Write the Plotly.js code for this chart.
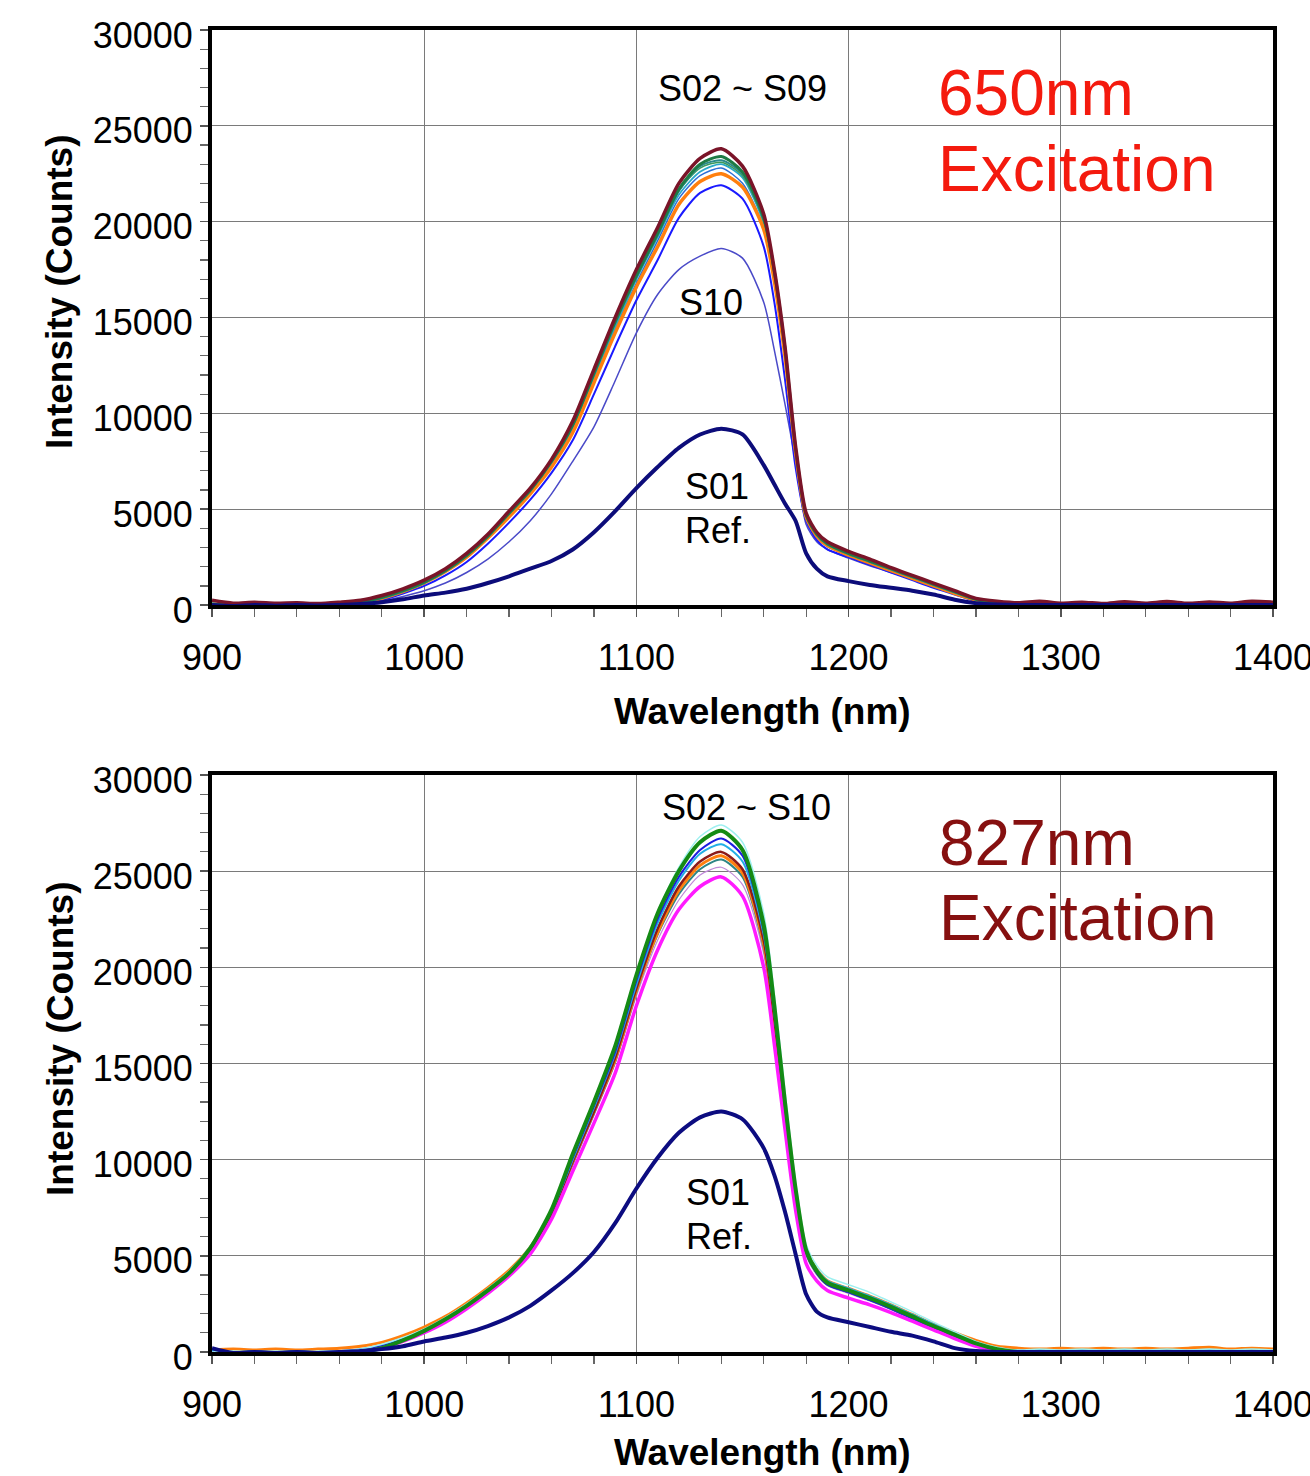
<!DOCTYPE html>
<html>
<head>
<meta charset="utf-8">
<script src="https://cdn.plot.ly/plotly-3.0.1.min.js"></script>
<style>html,body{margin:0;padding:0;background:#fff;}#chart{width:1310px;height:1476px;}</style>
</head>
<body>
<div id="chart"></div>
<script>
// Wavelength grid (nm)
const wavelength = [900,910,920,930,940,950,960,970,980,990,
  1000,1010,1020,1030,1040,1050,1060,1070,1080,1090,
  1100,1110,1120,1130,1140,1150,1160,
  1165,1170,1175,1180,1185,1190,
  1200,1210,1220,1230,1240,1250,1260,1270,1280,1290,
  1300,1310,1320,1330,1340,1350,1360,1370,1380,1390,1400];

// ---- 650 nm excitation ----
const top_S09 = [250,100,150,100,120,80,150,250,500,850,
  1300,1900,2700,3700,4900,6100,7600,9600,12300,15000,
  17500,19700,22000,23300,23800,22900,20400,
  17500,13500,8300,4800,3800,3300,
  2800,2400,1950,1550,1150,750,350,200,120,200,
  100,150,80,170,100,180,90,160,100,200,150];
const top_S02 = [50,0,50,0,30,0,50,150,400,750,
  1200,1800,2600,3600,4800,6000,7500,9400,12100,14800,
  17200,19400,21700,23000,23400,22600,20200,
  17400,13400,8200,4700,3700,3200,
  2700,2300,1900,1500,1100,700,300,120,50,80,
  30,60,0,50,20,40,-20,30,0,50,20];
const top_S03 = [0,-80,0,-50,0,-60,0,100,350,700,
  1150,1750,2550,3550,4750,5950,7450,9350,12000,14700,
  17100,19300,21600,22900,23200,22500,20100,
  17300,13300,8100,4650,3650,3150,
  2650,2250,1850,1450,1050,650,280,100,0,50,
  -50,20,-80,30,-50,0,-80,20,-60,0,-50];
const top_S04 = [0,-50,50,0,0,-50,50,100,350,700,
  1150,1750,2500,3500,4600,5800,7200,9000,11600,14200,
  16600,18700,20900,22100,22500,21800,19600,
  16900,13000,8000,4600,3600,3100,
  2600,2200,1800,1400,1000,600,250,100,0,50,
  0,50,-30,20,0,40,-20,30,0,20,0];
const top_S05 = [-100,-50,-80,-50,-60,-50,0,50,250,600,
  1000,1550,2250,3200,4300,5500,6900,8600,11000,13500,
  15900,18000,20200,21500,21900,21200,18700,
  15800,11800,7200,4400,3400,2900,
  2500,2100,1700,1300,900,550,200,50,-30,0,
  -50,0,-40,0,-50,0,-30,0,-50,0,-30];
const top_S06 = [-50,0,-50,0,-30,0,30,120,380,720,
  1180,1780,2580,3580,4720,5900,7350,9200,11800,14400,
  16800,19000,21200,22400,22800,22000,19700,
  16900,12900,7900,4550,3550,3050,
  2600,2200,1800,1400,1000,620,250,80,0,30,
  -20,30,0,20,-30,10,0,30,-20,0,20];
const top_S07 = [-200,-100,-150,-80,-120,-60,0,100,360,720,
  1170,1770,2570,3570,4750,5950,7400,9300,11900,14500,
  17000,19200,21400,22600,23000,22300,19900,
  17100,13100,8000,4600,3600,3100,
  2600,2200,1800,1400,1000,620,250,50,-100,-50,
  -150,-80,-150,-60,-150,-100,-150,-80,-180,-100,-150];
const top_S08 = [100,0,80,0,50,0,80,150,420,780,
  1220,1820,2620,3620,4800,6000,7500,9400,12050,14700,
  17100,19300,21600,22800,23100,22400,20000,
  17200,13200,8100,4650,3650,3150,
  2650,2250,1850,1450,1050,680,300,120,50,100,
  20,80,0,60,20,70,0,50,20,80,40];
const top_S10 = [-50,0,-30,0,-20,0,0,50,200,450,
  750,1150,1700,2400,3300,4400,5800,7500,9300,11700,
  14200,16200,17500,18200,18600,18100,15800,
  13300,10500,7500,4200,3300,2900,
  2450,2050,1700,1350,1000,600,250,100,0,50,
  0,30,-20,20,0,30,-10,20,0,20,0];
const top_S01 = [0,-50,0,-30,0,-20,0,50,150,300,
  500,650,850,1150,1500,1900,2300,2900,3800,4900,
  6100,7200,8200,8900,9200,8900,7300,
  6300,5300,4400,2700,1900,1500,
  1250,1050,900,750,550,280,100,30,0,0,
  0,0,0,0,0,0,0,0,0,0,0];

// ---- 827 nm excitation ----
const bot_S02 = [-100,-150,-100,-150,-100,-100,-50,0,200,600,
  1100,1700,2400,3200,4100,5400,7400,10300,13000,15900,
  19600,22800,25000,26500,27100,26100,22200,
  18000,13000,8500,5300,4200,3600,
  3200,2800,2350,1850,1350,900,450,150,0,-100,
  -50,-150,-100,-50,-150,-100,-150,-100,-50,-100,-150];
const bot_S03 = [0,50,0,50,0,50,50,150,400,750,
  1200,1800,2500,3300,4200,5500,7400,10200,12900,15800,
  19500,22900,25200,26800,27400,26500,22800,
  18600,13600,8900,5600,4500,3900,
  3500,3100,2600,2100,1550,1050,550,250,100,150,
  100,150,100,150,100,150,100,150,100,150,100];
const bot_S04 = [0,-50,0,-50,0,-50,0,100,300,650,
  1100,1700,2400,3200,4100,5400,7300,10100,12800,15600,
  19300,22500,24700,26100,26700,25800,21900,
  17700,12800,8300,5200,4100,3500,
  3100,2700,2250,1750,1250,800,350,100,0,-30,
  0,-50,0,-30,0,-50,0,-30,0,-50,0];
const bot_S05 = [100,0,50,0,50,0,50,150,350,700,
  1150,1750,2450,3250,4150,5450,7300,10000,12700,15500,
  19100,22300,24500,25900,26400,25500,21700,
  17600,12800,8400,5300,4300,3700,
  3300,2900,2450,1950,1450,950,500,200,80,100,
  50,100,50,100,50,80,50,100,50,80,50];
const bot_S06 = [0,-50,0,-50,0,-50,0,100,300,650,
  1100,1700,2400,3200,4100,5350,7200,9900,12500,15300,
  18900,22000,24200,25500,26000,25100,21400,
  17300,12600,8200,5200,4150,3550,
  3150,2750,2300,1800,1300,850,400,150,50,50,
  0,50,0,30,0,50,0,30,0,50,0];
const bot_S07 = [100,150,100,150,100,150,200,300,500,850,
  1300,1850,2550,3350,4250,5450,7250,9900,12500,15200,
  18800,21800,24000,25300,25800,24900,21200,
  17200,12500,8200,5300,4300,3700,
  3300,2900,2450,1950,1450,1000,600,300,200,150,
  200,150,200,150,200,150,200,250,150,200,150];
const bot_S08 = [-50,-100,-50,-100,-50,-100,-50,50,250,600,
  1050,1650,2350,3150,4050,5300,7150,9800,12400,15100,
  18700,21700,23800,25100,25600,24700,21000,
  17000,12400,8100,5100,4100,3500,
  3100,2700,2250,1750,1250,800,350,100,0,-50,
  -30,-80,-30,-80,-30,-80,-30,-80,-30,-80,-30];
const bot_S09 = [-300,-250,-300,-200,-250,-200,-100,0,200,550,
  1000,1550,2250,3050,3950,5100,6900,9400,11900,14500,
  18000,20900,23000,24200,24700,23700,20000,
  16000,11600,7400,4600,3700,3200,
  2800,2450,2050,1600,1150,700,300,50,-100,-200,
  -150,-250,-200,-150,-250,-200,-150,-250,-200,-150,-200];
const bot_S10 = [-200,-100,-150,-100,-100,-50,0,100,300,650,
  1100,1650,2350,3150,4050,5300,7100,9700,12300,15000,
  18500,21400,23500,24800,25200,24300,20700,
  16700,12200,8000,5000,4000,3450,
  3050,2650,2200,1700,1200,750,350,100,0,0,
  -50,0,-50,0,-50,0,-50,0,-50,0,-50];
const bot_S01 = [200,-50,0,-50,0,-50,0,50,150,300,
  550,750,1000,1350,1800,2400,3200,4100,5200,6700,
  8500,10100,11400,12200,12500,12100,10600,
  9200,7300,5100,3000,2100,1800,
  1550,1300,1050,850,550,200,50,0,0,0,
  0,0,0,0,0,0,0,0,0,0,0];

// Labels
const xTicks = [900,1000,1100,1200,1300,1400];
const yTicks = [0,5000,10000,15000,20000,25000,30000];
const xTitle = 'Wavelength (nm)';
const yTitle = 'Intensity (Counts)';

function tr(y, color, width, ax) {
  return {x: wavelength, y: y, type: 'scatter', mode: 'lines',
    line: {color: color, width: width, shape: 'spline', smoothing: 0.7}, xaxis: ax[0], yaxis: ax[1],
    hoverinfo: 'skip', showlegend: false};
}
const A = ['x','y'], B = ['x2','y2'];
const data = [
  tr(top_S10, '#4a4ac8', 1.5, A),
  tr(top_S06, '#2f6fd6', 1.5, A),
  tr(top_S07, '#29a8c8', 1.8, A),
  tr(top_S08, '#3c9a5a', 1.5, A),
  tr(top_S05, '#1a1aff', 2, A),
  tr(top_S04, '#ff7f0e', 3.5, A),
  tr(top_S03, '#2a8a8a', 2, A),
  tr(top_S02, '#1e7b45', 3, A),
  tr(top_S09, '#7a1428', 3.5, A),
  tr(top_S01, '#0c0c7a', 4, A),

  tr(bot_S10, '#c08ad8', 1.2, B),
  tr(bot_S08, '#2e8585', 2, B),
  tr(bot_S07, '#ff7f0e', 3, B),
  tr(bot_S06, '#8b1a1a', 2.5, B),
  tr(bot_S05, '#22aee6', 2, B),
  tr(bot_S04, '#1c1ce0', 2, B),
  tr(bot_S03, '#9ef0f0', 1.5, B),
  tr(bot_S09, '#ff1aff', 3.5, B),
  tr(bot_S02, '#148a14', 4, B),
  tr(bot_S01, '#0c0c80', 4, B)
];

const FONT = 'Liberation Sans, Arial, sans-serif';
function xax(anchor) {
  return {anchor: anchor, domain: [0,1], range: [900,1400], tickmode: 'array', tickvals: xTicks,
    ticktext: xTicks.map(String), ticklabeloverflow: 'allow',
    showgrid: true, gridcolor: '#7a7a7a', gridwidth: 1, zeroline: false,
    showline: true, linecolor: '#000', linewidth: 4, mirror: true,
    ticks: 'outside', ticklen: 8, tickwidth: 1.5, tickcolor: '#555',
    minor: {dtick: 20, tick0: 900, ticks: 'outside', ticklen: 8, tickwidth: 1.2, tickcolor: '#666', showgrid: false},
    tickfont: {family: FONT, size: 36, color: '#000'}, ticklabelstandoff: 10,
    fixedrange: true};
}
function yax(anchor, domain) {
  return {anchor: anchor, domain: domain, range: [0,30000], tickmode: 'array', tickvals: yTicks,
    ticktext: yTicks.map(String), ticklabelshift: 5,
    showgrid: true, gridcolor: '#7a7a7a', gridwidth: 1, zeroline: false,
    showline: true, linecolor: '#000', linewidth: 4, mirror: true,
    ticks: 'outside', ticklen: 8, tickwidth: 1.5, tickcolor: '#555',
    minor: {dtick: 1000, tick0: 0, ticks: 'outside', ticklen: 8, tickwidth: 1.2, tickcolor: '#666', showgrid: false},
    tickfont: {family: FONT, size: 36, color: '#000'}, ticklabelstandoff: 0,
    fixedrange: true};
}

function ann(text, x, y, xref, yref, size, color, xanchor, angle) {
  return {text: text, x: x, y: y, xref: xref, yref: yref, showarrow: false,
    xanchor: xanchor || 'center', yanchor: 'middle', textangle: angle || 0,
    font: {family: FONT, size: size, color: color}};
}

const layout = {
  width: 1310, height: 1476,
  margin: {l: 212, r: 37, t: 30, b: 124},
  paper_bgcolor: '#fff', plot_bgcolor: '#fff',
  showlegend: false, hovermode: false,
  xaxis: xax('y'), yaxis: yax('x', [0.565, 1]),
  xaxis2: xax('y2'), yaxis2: yax('x2', [0, 0.4365]),
  annotations: [
    ann('S02 ~ S09', 1150, 26970, 'x', 'y', 36, '#000'),
    ann('S10', 1135, 15800, 'x', 'y', 36, '#000'),
    ann('S01', 1122, 6200, 'x', 'y', 36, '#000', 'left'),
    ann('Ref.', 1122, 3900, 'x', 'y', 36, '#000', 'left'),
    ann('650nm', 1241, 26700, 'x', 'y', 64, '#f41a0e', 'left'),
    ann('Excitation', 1241, 22740, 'x', 'y', 64, '#f41a0e', 'left'),
    ann('S02 ~ S10', 1152, 28300, 'x2', 'y2', 36, '#000'),
    ann('S01', 1122.5, 8300, 'x2', 'y2', 36, '#000', 'left'),
    ann('Ref.', 1122.5, 6000, 'x2', 'y2', 36, '#000', 'left'),
    ann('827nm', 1241.5, 26470, 'x2', 'y2', 64, '#861010', 'left'),
    ann('Excitation', 1241.5, 22570, 'x2', 'y2', 64, '#861010', 'left'),
    // axis titles
    ann('<b>' + xTitle + '</b>', 762/1310, 1 - 711/1476, 'paper', 'paper', 37, '#000'),
    ann('<b>' + xTitle + '</b>', 762/1310, 1 - 1452/1476, 'paper', 'paper', 37, '#000'),
    ann('<b>' + yTitle + '</b>', 60/1310, 1 - 292/1476, 'paper', 'paper', 37, '#000', 'center', -90),
    ann('<b>' + yTitle + '</b>', 60/1310, 1 - 1039/1476, 'paper', 'paper', 37, '#000', 'center', -90)
  ]
};
// convert figure-pixel fractions to plot-area paper fractions
layout.annotations.forEach(a => {
  if (a.xref === 'paper') {
    const W = 1310 - 212 - 37, H = 1476 - 30 - 124;
    const px = a.x * 1310, py = (1 - a.y) * 1476;
    a.x = (px - 212) / W;
    a.y = 1 - (py - 30) / H;
  }
});

Plotly.newPlot('chart', data, layout, {staticPlot: true, displayModeBar: false});
</script>
</body>
</html>
